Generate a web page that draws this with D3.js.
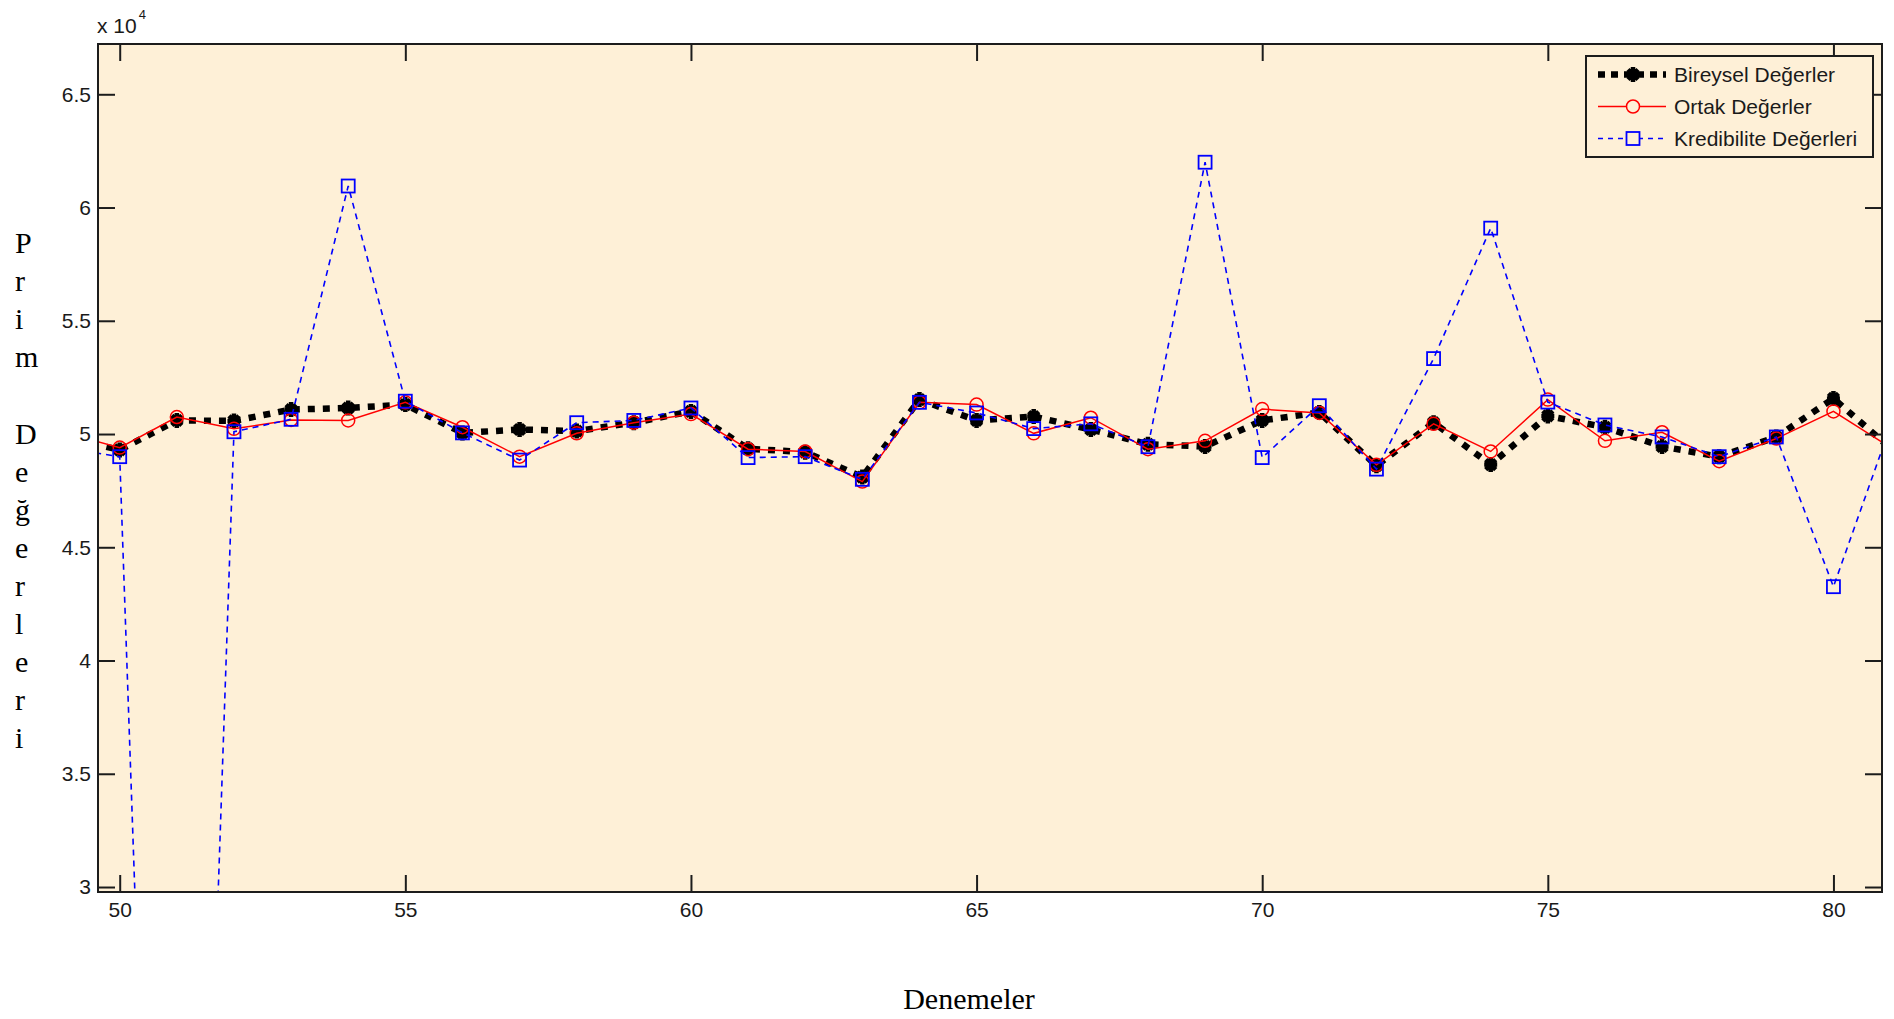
<!DOCTYPE html>
<html>
<head>
<meta charset="utf-8">
<script src="https://cdn.jsdelivr.net/npm/d3@7/dist/d3.min.js"></script>
<style>
  html, body { margin: 0; padding: 0; background: #ffffff; }
  svg { display: block; }
</style>
</head>
<body>
<svg id="chart" width="1894" height="1019"></svg>
<script>
// ---- data ----
const trials = [49,50,51,52,53,54,55,56,57,58,59,60,61,62,63,64,65,66,67,68,69,70,71,72,73,74,75,76,77,78,79,80,81];
const bireysel = [49880,49300,50600,50580,51080,51150,51300,50050,50200,50130,50500,51000,49350,49200,48100,51520,50600,50770,50200,49550,49450,50600,50950,48600,50500,48650,50800,50300,49450,49000,49870,51570,49370];
const ortak = [50080,49400,50750,50230,50620,50600,51400,50300,49000,50030,50500,50880,49330,49230,47900,51400,51300,50030,50720,49330,49700,51100,50930,48640,50450,49230,51520,49700,50080,48800,49800,51000,49400];
const kredibilite = [49400,49000,-23500,50100,50650,60950,51450,50050,48850,50500,50600,51150,48960,49000,48000,51400,50930,50240,50450,49440,62000,48960,51250,48450,53330,59090,51410,50400,49870,49000,49870,43260,50370];
const xTicks = [50,55,60,65,70,75,80];
const yTicks = [30000,35000,40000,45000,50000,55000,60000,65000];
const yTickLabels = ["3","3.5","4","4.5","5","5.5","6","6.5"];
const seriesNames = ["Bireysel Değerler","Ortak Değerler","Kredibilite Değerleri"];
const xTitle = "Denemeler";
const yTitle = "Prim Değerleri";

// ---- layout ----
const L = 98, R = 1882, T = 44, B = 892;
const svg = d3.select("#chart");
const x = d3.scaleLinear().domain([49.62, 80.85]).range([L, R]);
const y = d3.scaleLinear().domain([29780, 67220]).range([B, T]);
const bg = "#FEF0D7";
const axisCol = "#1c1c1c";
const font = "'Liberation Sans', Arial, sans-serif";
const serif = "'Liberation Serif', 'Times New Roman', serif";

svg.append("rect").attr("x", L).attr("y", T).attr("width", R - L).attr("height", B - T).attr("fill", bg);

svg.append("defs").append("clipPath").attr("id", "clip")
  .append("rect").attr("x", L).attr("y", T).attr("width", R - L).attr("height", B - T);

const plot = svg.append("g").attr("clip-path", "url(#clip)");
const line = d3.line().x((d, i) => x(trials[i])).y(d => y(d));

// Bireysel: black thick dotted with asterisk markers
plot.append("path").datum(bireysel).attr("d", line)
  .attr("fill", "none").attr("stroke", "#000").attr("stroke-width", 6.5)
  .attr("stroke-dasharray", "7,8");
const star = "M-6.5,0H6.5M0,-7.5V7.5M-5,-5L5,5M-5,5L5,-5";
plot.selectAll(".bm").data(bireysel).enter().append("path")
  .attr("transform", (d, i) => `translate(${x(trials[i])},${y(d)})`)
  .attr("d", star).attr("fill", "none").attr("stroke", "#000").attr("stroke-width", 4.5);

// Ortak: red solid with circles
plot.append("path").datum(ortak).attr("d", line)
  .attr("fill", "none").attr("stroke", "#ff0000").attr("stroke-width", 1.5);
plot.selectAll(".om").data(ortak).enter().append("circle")
  .attr("cx", (d, i) => x(trials[i])).attr("cy", d => y(d)).attr("r", 6.5)
  .attr("fill", "none").attr("stroke", "#ff0000").attr("stroke-width", 1.5);

// Kredibilite: blue dashed with squares
plot.append("path").datum(kredibilite).attr("d", line)
  .attr("fill", "none").attr("stroke", "#0000ff").attr("stroke-width", 1.6)
  .attr("stroke-dasharray", "6,5");
plot.selectAll(".km").data(kredibilite).enter().append("rect")
  .attr("x", (d, i) => x(trials[i]) - 6.5).attr("y", d => y(d) - 6.5)
  .attr("width", 13).attr("height", 13)
  .attr("fill", "none").attr("stroke", "#0000ff").attr("stroke-width", 1.8);

// ---- axes (ticks inward, box) ----
const tickLen = 17;
const gx = svg.append("g").attr("transform", `translate(0,${B})`)
  .call(d3.axisBottom(x).tickValues(xTicks).tickSizeInner(-tickLen).tickSizeOuter(0).tickFormat(d3.format("d")));
const gxTop = svg.append("g").attr("transform", `translate(0,${T})`)
  .call(d3.axisTop(x).tickValues(xTicks).tickSizeInner(-tickLen).tickSizeOuter(0).tickFormat(""));
const gy = svg.append("g").attr("transform", `translate(${L},0)`)
  .call(d3.axisLeft(y).tickValues(yTicks).tickSizeInner(-tickLen).tickSizeOuter(0).tickPadding(7).tickFormat((d, i) => yTickLabels[i]));
const gyR = svg.append("g").attr("transform", `translate(${R},0)`)
  .call(d3.axisRight(y).tickValues(yTicks).tickSizeInner(-tickLen).tickSizeOuter(0).tickFormat(""));

[gx, gxTop, gy, gyR].forEach(g => {
  g.select(".domain").remove();
  g.selectAll(".tick line").attr("stroke", axisCol).attr("stroke-width", 2);
  g.selectAll(".tick text").attr("fill", "#1a1a1a").style("font-family", font).style("font-size", "21px");
});
gx.selectAll(".tick text").attr("dy", "0.71em").attr("y", 10);
svg.append("rect").attr("x", L).attr("y", T).attr("width", R - L).attr("height", B - T)
  .attr("fill", "none").attr("stroke", axisCol).attr("stroke-width", 2);

// exponent label
const ex = svg.append("text").attr("x", 97).attr("y", 33).attr("fill", "#1a1a1a")
  .style("font-family", font).style("font-size", "21px");
ex.append("tspan").text("x 10");
ex.append("tspan").attr("dx", 2).attr("dy", -14).style("font-size", "13px").text("4");

// axis titles
svg.append("text").attr("x", 969).attr("y", 1009).attr("text-anchor", "middle")
  .style("font-family", serif).style("font-size", "30px").attr("fill", "#000").text(xTitle);
const chars = Array.from(yTitle);
svg.append("g").selectAll("text").data(chars).enter().append("text")
  .attr("x", 15).attr("y", (d, i) => 253 + i * 38.1)
  .style("font-family", serif).style("font-size", "30px").attr("fill", "#000")
  .text(d => d);

// ---- legend ----
const lg = svg.append("g");
lg.append("rect").attr("x", 1586).attr("y", 56).attr("width", 287).attr("height", 101)
  .attr("fill", bg).attr("stroke", axisCol).attr("stroke-width", 2);
const rows = [74.5, 106.5, 138.5];
// row 1
lg.append("line").attr("x1", 1598).attr("x2", 1666).attr("y1", rows[0]).attr("y2", rows[0])
  .attr("stroke", "#000").attr("stroke-width", 6.5).attr("stroke-dasharray", "7,6");
lg.append("path").attr("transform", `translate(1633,${rows[0]})`).attr("d", star)
  .attr("fill", "none").attr("stroke", "#000").attr("stroke-width", 4.5);
// row 2
lg.append("line").attr("x1", 1598).attr("x2", 1666).attr("y1", rows[1]).attr("y2", rows[1])
  .attr("stroke", "#ff0000").attr("stroke-width", 1.5);
lg.append("circle").attr("cx", 1633).attr("cy", rows[1]).attr("r", 6.5)
  .attr("fill", bg).attr("stroke", "#ff0000").attr("stroke-width", 1.5);
// row 3
lg.append("line").attr("x1", 1598).attr("x2", 1666).attr("y1", rows[2]).attr("y2", rows[2])
  .attr("stroke", "#0000ff").attr("stroke-width", 1.6).attr("stroke-dasharray", "5,5");
lg.append("rect").attr("x", 1626.5).attr("y", rows[2] - 6.5).attr("width", 13).attr("height", 13)
  .attr("fill", bg).attr("stroke", "#0000ff").attr("stroke-width", 1.8);
lg.selectAll(".lt").data(seriesNames).enter().append("text")
  .attr("x", 1674).attr("y", (d, i) => rows[i]).attr("dy", "0.36em")
  .style("font-family", font).style("font-size", "21px").attr("fill", "#1a1a1a")
  .text(d => d);
</script>
</body>
</html>
